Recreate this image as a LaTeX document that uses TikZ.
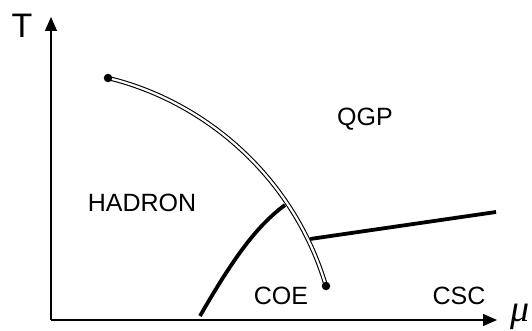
\documentclass[tikz,border=0pt]{standalone}
\usepackage{fontspec}
\setmainfont{Liberation Sans}
\newfontfamily\mufont{Liberation Serif}
\usetikzlibrary{arrows.meta}
\begin{document}
\begin{tikzpicture}[x=1pt,y=-1pt,
  axis/.style={line width=1.3pt,-{Triangle[length=14pt,width=12pt]}},
  lbl/.style={font=\fontsize{25}{30}\selectfont,inner sep=0pt},
  crit/.style={double=white,line width=1.1pt,double distance=2.2pt,draw=black},
  thick/.style={line width=3.8pt},
  dot/.style={circle,fill=black,inner sep=0pt,minimum size=8.5pt}]
\useasboundingbox (0,0) rectangle (532,331);
\coordinate (O) at (51,320);
\coordinate (Ytip) at (51,17);
\coordinate (Xtip) at (497,320);
\draw[axis] (O) -- (Ytip);
\draw[axis] (O) -- (Xtip);
\node[inner sep=0pt,anchor=base,font=\fontsize{34}{40}\selectfont] (T) at (22,38) {T};
\node[inner sep=0pt,anchor=base,font=\fontsize{38}{44}\selectfont\mufont\itshape] (mu) at (520,321) {μ};
\coordinate (cpc) at (108,78);
\coordinate (epc) at (326,286);
\draw[crit] (cpc) .. controls (200,100) and (292,172) .. (epc);
\node[dot] (cp) at (cpc) {};
\node[dot] (ep) at (epc) {};
\coordinate (c1) at (200,316);
\coordinate (c2) at (285,205);
\draw[thick] (c1) .. controls (235,255) and (258,225) .. (c2);
\coordinate (r1) at (310,239);
\coordinate (r2) at (496,212);
\draw[thick] (r1) -- (r2);
\node[lbl] (qgp) at (365,119) {QGP};
\node[lbl] (hadron) at (142,203) {HADRON};
\node[lbl] (coe) at (281,296) {COE};
\node[lbl] (csc) at (459,296) {CSC};
\end{tikzpicture}
\end{document}
